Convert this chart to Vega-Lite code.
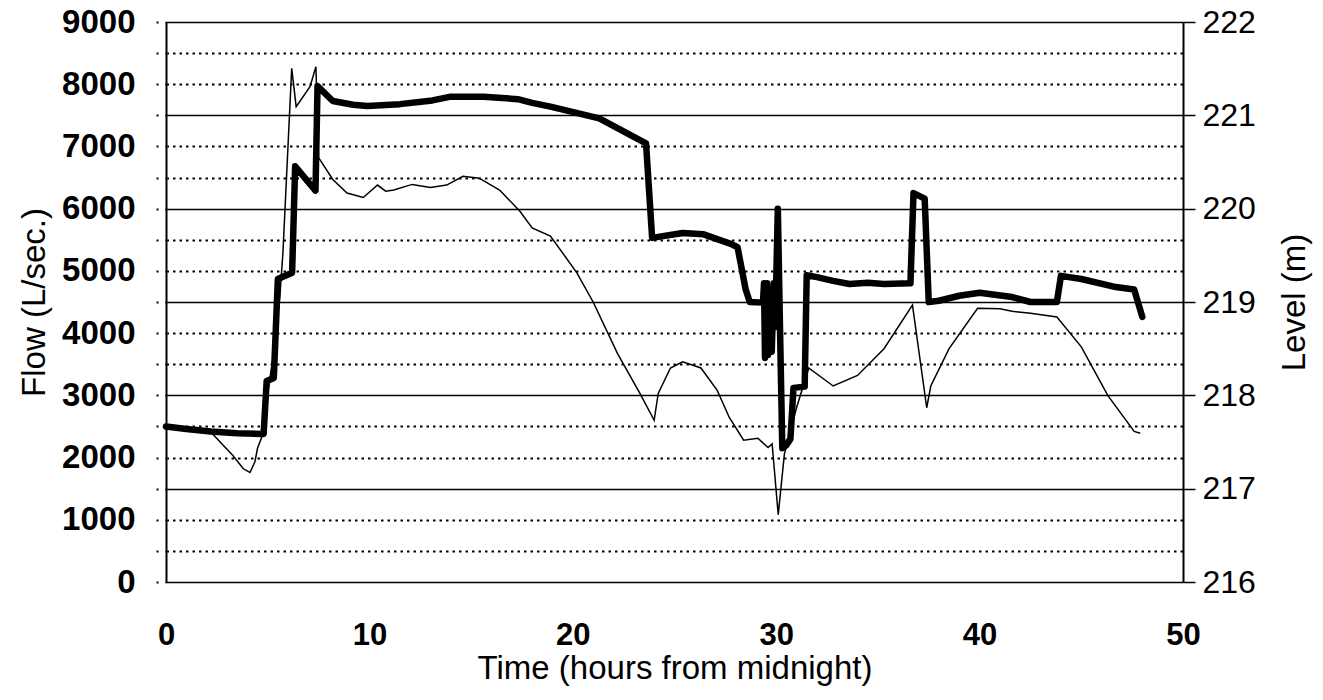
{
  "$schema": "https://vega.github.io/schema/vega-lite/v6.json",
  "width": 1017,
  "height": 560,
  "autosize": {"type": "none"},
  "padding": {"left": 166, "top": 22, "right": 140, "bottom": 118},
  "background": "white",
  "config": {"view": {"stroke": null}, "font": "Liberation Sans"},
  "datasets": {
    "flow": [
      {"t": 0, "flow": 2500}, {"t": 1.0, "flow": 2460}, {"t": 2.2, "flow": 2420}, {"t": 3.5, "flow": 2390},
      {"t": 4.8, "flow": 2380}, {"t": 4.95, "flow": 3230}, {"t": 5.3, "flow": 3280}, {"t": 5.5, "flow": 4870},
      {"t": 6.2, "flow": 4970}, {"t": 6.35, "flow": 6680}, {"t": 7.35, "flow": 6290}, {"t": 7.45, "flow": 7970},
      {"t": 8.2, "flow": 7730}, {"t": 9.2, "flow": 7670}, {"t": 9.9, "flow": 7650}, {"t": 11.5, "flow": 7680},
      {"t": 13.1, "flow": 7740}, {"t": 14.0, "flow": 7800}, {"t": 15.6, "flow": 7800}, {"t": 17.3, "flow": 7760},
      {"t": 18.0, "flow": 7700}, {"t": 18.9, "flow": 7640}, {"t": 21.3, "flow": 7450}, {"t": 23.6, "flow": 7050},
      {"t": 23.9, "flow": 5530}, {"t": 25.4, "flow": 5610}, {"t": 26.4, "flow": 5590}, {"t": 27.8, "flow": 5430},
      {"t": 28.1, "flow": 5380}, {"t": 28.5, "flow": 4700}, {"t": 28.7, "flow": 4500}, {"t": 29.35, "flow": 4490},
      {"t": 29.4, "flow": 4800}, {"t": 29.45, "flow": 3600}, {"t": 29.55, "flow": 4800}, {"t": 29.6, "flow": 3650},
      {"t": 29.7, "flow": 4700}, {"t": 29.78, "flow": 3700}, {"t": 29.88, "flow": 4800}, {"t": 29.95, "flow": 4100},
      {"t": 30.08, "flow": 6000}, {"t": 30.18, "flow": 4200}, {"t": 30.3, "flow": 2150}, {"t": 30.5, "flow": 2200},
      {"t": 30.7, "flow": 2300}, {"t": 30.85, "flow": 3120}, {"t": 31.4, "flow": 3140}, {"t": 31.5, "flow": 4930},
      {"t": 32.0, "flow": 4900}, {"t": 32.8, "flow": 4840}, {"t": 33.6, "flow": 4790}, {"t": 34.5, "flow": 4810},
      {"t": 35.3, "flow": 4790}, {"t": 36.6, "flow": 4800}, {"t": 36.75, "flow": 6250}, {"t": 37.3, "flow": 6160},
      {"t": 37.5, "flow": 4500}, {"t": 38.0, "flow": 4520}, {"t": 39.0, "flow": 4600}, {"t": 40.0, "flow": 4650},
      {"t": 41.6, "flow": 4580}, {"t": 42.5, "flow": 4500}, {"t": 43.8, "flow": 4500}, {"t": 44.0, "flow": 4920},
      {"t": 45.0, "flow": 4870}, {"t": 46.7, "flow": 4740}, {"t": 47.6, "flow": 4700}, {"t": 48.0, "flow": 4260}
    ],
    "level": [
      {"t": 0, "level": 217.667}, {"t": 1.0, "level": 217.647}, {"t": 2.2, "level": 217.607}, {"t": 2.8, "level": 217.467},
      {"t": 3.3, "level": 217.353}, {"t": 3.8, "level": 217.213}, {"t": 4.13, "level": 217.173}, {"t": 4.37, "level": 217.287},
      {"t": 4.5, "level": 217.433}, {"t": 4.7, "level": 217.547}, {"t": 4.9, "level": 217.867},
      {"t": 5.3, "level": 218.467}, {"t": 5.6, "level": 219.067}, {"t": 5.75, "level": 219.533}, {"t": 6.18, "level": 221.503},
      {"t": 6.4, "level": 221.093}, {"t": 7.08, "level": 221.307}, {"t": 7.37, "level": 221.52}, {"t": 7.5, "level": 220.547},
      {"t": 8.2, "level": 220.313}, {"t": 8.9, "level": 220.167}, {"t": 9.7, "level": 220.12}, {"t": 10.4, "level": 220.253},
      {"t": 10.8, "level": 220.187}, {"t": 11.2, "level": 220.2}, {"t": 12.1, "level": 220.26}, {"t": 13.0, "level": 220.227},
      {"t": 13.8, "level": 220.253}, {"t": 14.6, "level": 220.347}, {"t": 15.4, "level": 220.327}, {"t": 16.4, "level": 220.2},
      {"t": 17.4, "level": 219.973}, {"t": 18.0, "level": 219.793}, {"t": 18.9, "level": 219.707}, {"t": 20.2, "level": 219.313},
      {"t": 21.0, "level": 219.0}, {"t": 22.2, "level": 218.447}, {"t": 23.3, "level": 218.02}, {"t": 24.0, "level": 217.733},
      {"t": 24.2, "level": 218.02}, {"t": 24.8, "level": 218.293}, {"t": 25.4, "level": 218.36}, {"t": 26.3, "level": 218.293},
      {"t": 27.1, "level": 218.053}, {"t": 27.7, "level": 217.76}, {"t": 28.4, "level": 217.52}, {"t": 29.1, "level": 217.54},
      {"t": 29.6, "level": 217.44}, {"t": 29.8, "level": 217.48}, {"t": 30.1, "level": 216.72}, {"t": 30.4, "level": 217.367},
      {"t": 31.0, "level": 217.867}, {"t": 31.6, "level": 218.293}, {"t": 32.8, "level": 218.1}, {"t": 34.0, "level": 218.213},
      {"t": 35.3, "level": 218.5}, {"t": 36.7, "level": 218.967}, {"t": 37.4, "level": 217.867}, {"t": 37.6, "level": 218.1},
      {"t": 38.5, "level": 218.5}, {"t": 39.9, "level": 218.933}, {"t": 41.0, "level": 218.927}, {"t": 41.6, "level": 218.9},
      {"t": 42.5, "level": 218.88}, {"t": 43.8, "level": 218.84}, {"t": 45.0, "level": 218.52}, {"t": 46.3, "level": 218.0},
      {"t": 47.6, "level": 217.613}, {"t": 47.9, "level": 217.593}
    ]
  },
  "layer": [
    {
      "data": {"name": "flow"},
      "mark": {"type": "line", "color": "black", "strokeWidth": 6.5, "strokeJoin": "round", "strokeCap": "round"},
      "encoding": {
        "x": {
          "field": "t", "type": "quantitative",
          "scale": {"domain": [0, 50], "nice": false},
          "axis": {
            "values": [0, 10, 20, 30, 40, 50],
            "title": "Time (hours from midnight)",
            "domain": false, "ticks": false, "grid": false,
            "labelFontSize": 31, "labelFontWeight": "bold", "labelColor": "black",
            "labelPadding": 38, "labelFlush": false, "labelOverlap": false,
            "titleFontSize": 33, "titleFontWeight": "normal", "titleColor": "black", "titlePadding": 2
          }
        },
        "y": {
          "field": "flow", "type": "quantitative",
          "scale": {"domain": [0, 9000], "nice": false, "zero": false},
          "axis": {
            "values": [0, 500, 1000, 1500, 2000, 2500, 3000, 3500, 4000, 4500, 5000, 5500, 6000, 6500, 7000, 7500, 8000, 8500, 9000],
            "format": "d",
            "labelExpr": "datum.value % 1000 === 0 ? datum.label : ''",
            "title": "Flow (L/sec.)",
            "domainColor": "black", "domainWidth": 2,
            "tickColor": "black", "tickSize": 10, "tickWidth": 2, "tickDash": [1, 7, 2, 0],
            "grid": true, "gridColor": "black",
            "gridDash": {"condition": {"test": "datum.value % 1500 !== 0", "value": [2.5, 4]}, "value": []},
            "gridWidth": {"condition": {"test": "datum.value % 1500 !== 0", "value": 2}, "value": 1.6},
            "gridOpacity": 1,
            "labelFontSize": 33, "labelFontWeight": "bold", "labelColor": "black",
            "labelPadding": 21, "labelFlush": false, "labelOverlap": false,
            "titleFontSize": 33, "titleFontWeight": "normal", "titleColor": "black", "titlePadding": 10
          }
        }
      }
    },
    {
      "data": {"name": "level"},
      "mark": {"type": "line", "color": "black", "strokeWidth": 1.5},
      "encoding": {
        "x": {"field": "t", "type": "quantitative", "scale": {"domain": [0, 50], "nice": false}},
        "y": {
          "field": "level", "type": "quantitative",
          "scale": {"domain": [216, 222], "nice": false, "zero": false},
          "axis": {
            "orient": "right",
            "values": [216, 217, 218, 219, 220, 221, 222],
            "format": "d",
            "title": "Level (m)",
            "titleAngle": 270,
            "domainColor": "black", "domainWidth": 2,
            "tickColor": "black", "tickSize": 12, "tickWidth": 1.5,
            "grid": false,
            "labelFontSize": 32, "labelFontWeight": "normal", "labelColor": "black",
            "labelPadding": 7, "labelFlush": false, "labelOverlap": false,
            "titleFontSize": 33, "titleFontWeight": "normal", "titleColor": "black", "titlePadding": 56
          }
        }
      }
    }
  ],
  "resolve": {"scale": {"y": "independent"}}
}
